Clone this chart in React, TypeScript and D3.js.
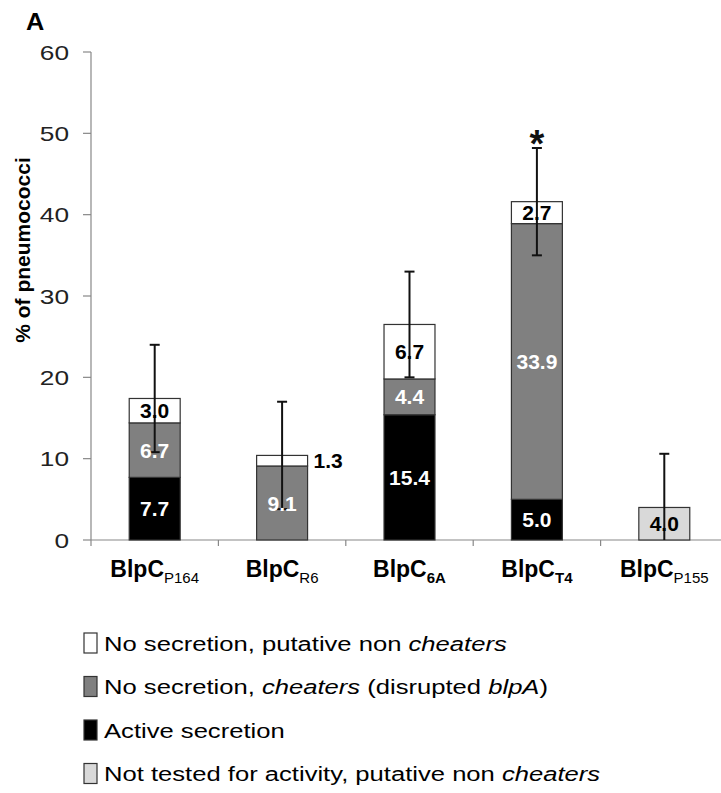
import React from "react";
import * as d3 from "d3";

const categories = ["P164", "R6", "6A", "T4", "P155"];
const subBold = [false, false, true, true, false];
const active = [7.7, 0, 15.4, 5.0, 0];
const cheaters = [6.7, 9.1, 4.4, 33.9, 0];
const nonCheaters = [3.0, 1.3, 6.7, 2.7, 0];
const notTested = [0, 0, 0, 0, 4.0];
const errors = [6.6, 6.6, 6.5, 6.6, 6.6];
const yTicks = [0, 10, 20, 30, 40, 50, 60];
const seriesKeys = ["active", "cheaters", "nonCheaters", "notTested"];
const seriesFill: Record<string, string> = {
  active: "#000000",
  cheaters: "#808080",
  nonCheaters: "#ffffff",
  notTested: "#d9d9d9",
};
const seriesText: Record<string, string> = {
  active: "#ffffff",
  cheaters: "#ffffff",
  nonCheaters: "#000000",
  notTested: "#000000",
};
const legendItems = [
  { key: "nonCheaters", parts: [["No secretion, putative non ", false], ["cheaters", true]] },
  { key: "cheaters", parts: [["No secretion, ", false], ["cheaters", true], [" (disrupted ", false], ["blpA", true], [")", false]] },
  { key: "active", parts: [["Active secretion", false]] },
  { key: "notTested", parts: [["Not tested for activity, putative non ", false], ["cheaters", true]] },
];
const starIndex = 3;
const outsideLabelIndex = 1; // R6 white segment label drawn outside

const FONT = "'Liberation Sans', Arial, sans-serif";

export default function App() {
  const W = 721, H = 793;
  const x0 = 91, y0 = 540;
  const x = d3.scaleBand<string>().domain(categories).range([x0, x0 + 5 * 127.4]).padding(0);
  const y = d3.scaleLinear().domain([0, 60]).range([y0, 52]);
  const bw = x.bandwidth() * 0.4;

  const rows = categories.map((c, i) => ({
    cat: c,
    active: active[i],
    cheaters: cheaters[i],
    nonCheaters: nonCheaters[i],
    notTested: notTested[i],
  }));
  const stacked = d3.stack<any>().keys(seriesKeys)(rows);
  const totals = categories.map((_, i) => active[i] + cheaters[i] + nonCheaters[i] + notTested[i]);

  return (
    <svg width={W} height={H} style={{ position: "absolute", left: 0, top: 0, background: "#fff" }} fontFamily={FONT}>
      <rect x={0} y={0} width={W} height={H} fill="#fff" />
      {/* panel letter */}
      <text transform="translate(26,30) scale(1.1,1)" fontSize={23} fontWeight="bold" fill="#000">A</text>

      {/* y axis */}
      <line x1={x0} x2={x0} y1={y(60)} y2={y0} stroke="#888" strokeWidth={1.2} />
      {yTicks.map((t) => (
        <g key={t}>
          <line x1={x0 - 8} x2={x0} y1={y(t)} y2={y(t)} stroke="#888" strokeWidth={1.2} />
          <text transform={`translate(69,${y(t)}) scale(1.25,1)`} dy="0.36em" textAnchor="end" fontSize={21} fill="#222">{t}</text>
        </g>
      ))}
      <text transform={`translate(30,250) rotate(-90)`} textAnchor="middle" fontSize={21} fontWeight="bold" fill="#000">
        % of pneumococci
      </text>

      {/* x axis */}
      <line x1={x0} x2={W} y1={y0} y2={y0} stroke="#888" strokeWidth={1.2} />
      {categories.map((c) => (
        <line key={"t" + c} x1={x(c)!} x2={x(c)!} y1={y0} y2={y0 + 6} stroke="#888" strokeWidth={1.2} />
      ))}

      {/* bars */}
      {stacked.map((s) => (
        <g key={s.key}>
          {s.map((d, i) => {
            const v = d[1] - d[0];
            if (v <= 0) return null;
            const cx = x(categories[i])! + x.bandwidth() / 2;
            return (
              <rect key={i} x={cx - bw / 2} y={y(d[1])} width={bw} height={y(d[0]) - y(d[1])}
                fill={seriesFill[s.key]} stroke="#333" strokeWidth={1.2} />
            );
          })}
        </g>
      ))}

      {/* error bars */}
      {categories.map((c, i) => {
        const cx = x(c)! + x.bandwidth() / 2;
        const hi = totals[i] + errors[i];
        const lo = Math.max(0, totals[i] - errors[i]);
        return (
          <g key={"e" + c} stroke="#111" strokeWidth={2}>
            <line x1={cx} x2={cx} y1={y(hi)} y2={y(lo)} />
            <line x1={cx - 5} x2={cx + 5} y1={y(hi)} y2={y(hi)} />
            {lo > 0 && <line x1={cx - 5} x2={cx + 5} y1={y(lo)} y2={y(lo)} />}
          </g>
        );
      })}

      {/* data labels */}
      {stacked.map((s) => (
        <g key={"l" + s.key}>
          {s.map((d, i) => {
            const v = d[1] - d[0];
            if (v <= 0) return null;
            const cx = x(categories[i])! + x.bandwidth() / 2;
            const my = (y(d[0]) + y(d[1])) / 2;
            const outside = s.key === "nonCheaters" && i === outsideLabelIndex;
            return (
              <text key={i} x={outside ? cx + bw / 2 + 6 : cx} y={my} dy="0.36em"
                textAnchor={outside ? "start" : "middle"} fontSize={21} fontWeight="bold"
                fill={outside ? "#000" : seriesText[s.key]}>
                {v.toFixed(1)}
              </text>
            );
          })}
        </g>
      ))}

      {/* significance star */}
      <text x={x(categories[starIndex])! + x.bandwidth() / 2} y={y(totals[starIndex] + errors[starIndex]) + 9}
        textAnchor="middle" fontSize={38} fontWeight="bold" fill="#111">*</text>

      {/* category labels */}
      {categories.map((c, i) => (
        <text key={"c" + c} x={x(c)! + x.bandwidth() / 2} y={577} textAnchor="middle" fontSize={23} fontWeight="bold" fill="#000">
          BlpC
          <tspan fontSize={15} dy={6} fontWeight={subBold[i] ? "bold" : "normal"}>{c}</tspan>
        </text>
      ))}

      {/* legend */}
      {legendItems.map((it, k) => {
        const cy = 643 + k * 43.5;
        return (
          <g key={"lg" + k}>
            <rect x={84} y={cy - 10} width={13} height={20} fill={seriesFill[it.key]} stroke="#333" strokeWidth={1.2} />
            <text transform={`translate(104,${cy}) scale(1.22,1)`} dy="0.36em" fontSize={21} fill="#000">
              {it.parts.map((p, j) => (
                <tspan key={j} fontStyle={p[1] ? "italic" : "normal"}>{p[0] as string}</tspan>
              ))}
            </text>
          </g>
        );
      })}
    </svg>
  );
}
